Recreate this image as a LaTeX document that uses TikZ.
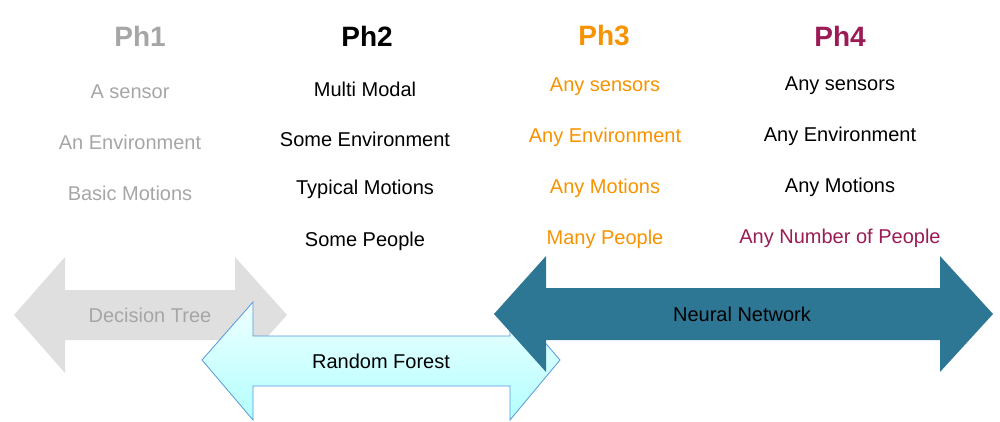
\documentclass[tikz,border=0pt]{standalone}
\usepackage{fontspec}
\setmainfont{Liberation Sans}
\begin{document}
\begin{tikzpicture}[x=1pt,y=-1pt,
  t/.style={font=\fontsize{20}{22}\selectfont, anchor=center},
  h/.style={font=\fontsize{28}{30}\selectfont\bfseries, anchor=center}]
\definecolor{gr}{HTML}{A6A6A6}
\definecolor{org}{HTML}{F79200}
\definecolor{mar}{HTML}{9B1B55}
\definecolor{nn}{HTML}{2D7795}
\useasboundingbox (0,0) rectangle (1000,422);
% Decision tree
\fill[gray!25] (14,315) -- (65,257) -- (65,290) -- (235,290) -- (235,257) -- (287,315) -- (235,373) -- (235,340) -- (65,340) -- (65,373) -- cycle;
\node[t,text=gr] (dt) at (150,315) {Decision Tree};
% Random forest
\shade[top color=cyan!6, bottom color=cyan!30, draw=cyan!60!blue!70, line width=0.8pt] (202,360) -- (253,302) -- (253,336) -- (510,336) -- (510,302) -- (560,360) -- (510,420) -- (510,386) -- (253,386) -- (253,420) -- cycle;
\node[t] (rf) at (381,361) {Random Forest};
% Neural network
\fill[nn] (494,314) -- (546,256) -- (546,288) -- (940,288) -- (940,256) -- (993,314) -- (940,372) -- (940,340) -- (546,340) -- (546,372) -- cycle;
\node[t] (nnl) at (742,314) {Neural Network};
% Ph1
\node[h,text=gr] (p1) at (140,36) {Ph1};
\node[t,text=gr] (p1a) at (130,92) {A sensor};
\node[t,text=gr] (p1b) at (130,142) {An Environment};
\node[t,text=gr] (p1c) at (130,193) {Basic Motions};
% Ph2
\node[h] (p2) at (367,36) {Ph2};
\node[t] (p2a) at (365,89) {Multi Modal};
\node[t] (p2b) at (365,139) {Some Environment};
\node[t] (p2c) at (365,189) {Typical Motions};
\node[t] (p2d) at (365,241) {Some People};
% Ph3
\node[h,text=org] (p3) at (604,36) {Ph3};
\node[t,text=org] (p3a) at (605,87) {Any sensors};
\node[t,text=org] (p3b) at (605,137) {Any Environment};
\node[t,text=org] (p3c) at (605,188) {Any Motions};
\node[t,text=org] (p3d) at (605,239) {Many People};
% Ph4
\node[h,text=mar] (p4) at (840,36) {Ph4};
\node[t] (p4a) at (840,86) {Any sensors};
\node[t] (p4b) at (840,136) {Any Environment};
\node[t] (p4c) at (840,187) {Any Motions};
\node[t,text=mar] (p4d) at (840,238) {Any Number of People};
\end{tikzpicture}
\end{document}
